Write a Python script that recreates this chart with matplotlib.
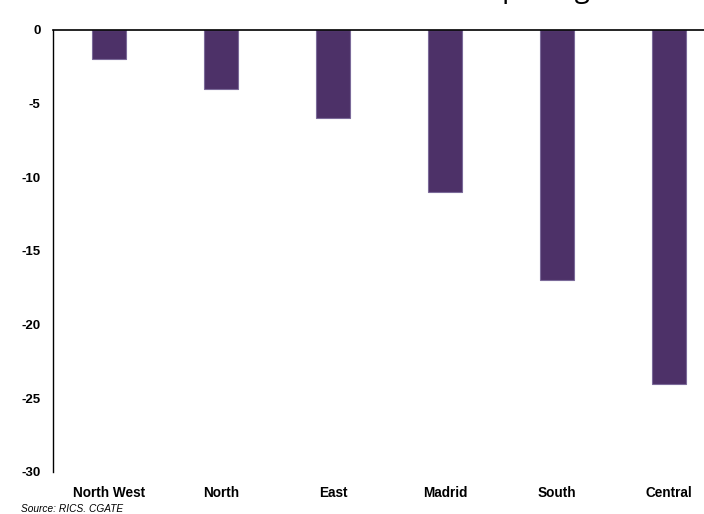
import matplotlib
matplotlib.use("Agg")
import matplotlib.pyplot as plt

regions = ["North West", "North", "East", "Madrid", "South", "Central"]
change = [-2, -4, -6, -11, -17, -24]
yticks = [0, -5, -10, -15, -20, -25, -30]

BAR = "#4d3168"
EDGE = "#7b6a99"

fig = plt.figure(figsize=(7.04, 5.14), dpi=100)
ax = fig.add_axes([53 / 704, 42 / 514, 672 / 704, 442 / 514])

x = range(len(regions))
ax.bar(x, change, width=0.31, color=BAR, edgecolor=EDGE, linewidth=0.8, zorder=2)

ax.set_xlim(-0.5, len(regions) - 0.5)
ax.set_ylim(-30, 0)
ax.set_yticks(yticks)
ax.set_yticklabels([str(v) for v in yticks], fontsize=9.5, fontweight="bold",
                   family="Liberation Sans")
ax.set_xticks(list(x))
ax.set_xticklabels(regions, fontsize=9.8, fontweight="bold", family="Liberation Sans")
ax.tick_params(axis="y", length=0, pad=9)
ax.tick_params(axis="x", length=0, pad=10)

for side in ("right", "bottom"):
    ax.spines[side].set_visible(False)
ax.spines["top"].set_linewidth(1.2)
ax.spines["left"].set_linewidth(1.0)

# title sits mostly above the canvas; only descenders remain visible
fig.text(412 / 704, 1 + 2.7 / 514, "House pricing", fontsize=20, family="Open Sans",
         ha="left", va="baseline")
fig.text(21 / 704, 5 / 514, "Source: RICS. CGATE", fontsize=7.3, style="italic",
         family="Liberation Sans", ha="left", va="center")

fig.savefig("out.png", dpi=100)
